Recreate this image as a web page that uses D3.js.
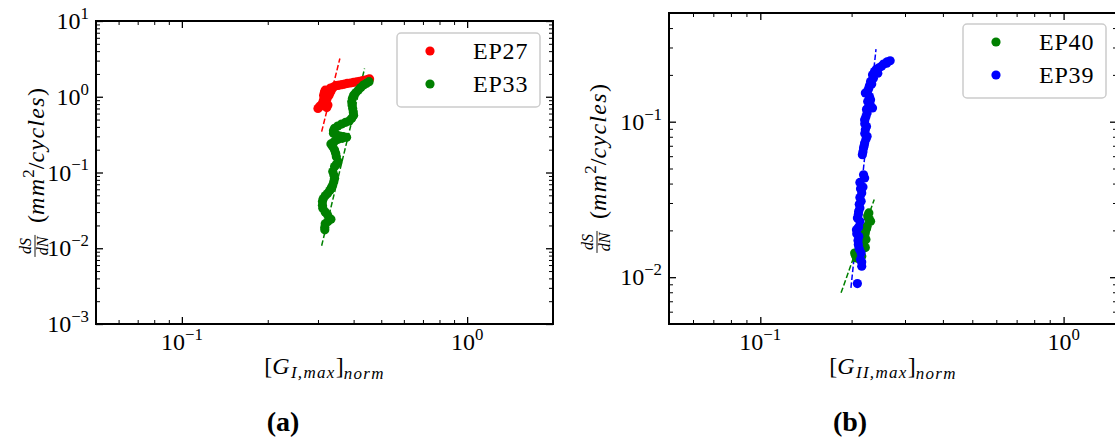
<!DOCTYPE html>
<html><head><meta charset="utf-8">
<script src="https://cdn.jsdelivr.net/npm/d3@7"></script>
<style>body{margin:0;background:#fff}svg{display:block}
svg text{font-family:"Liberation Serif",serif;fill:#000}
svg text .it, svg text.it{font-style:italic}
.mi{letter-spacing:1.3px}
</style>
</head><body>
<svg id="c" width="1115" height="441"></svg>
<script>
// ---------------- data ----------------
const ep27 = [[0.300,0.70],[0.303,0.73],[0.306,0.76],[0.310,0.80],[0.313,0.88],[0.315,0.96],[0.314,1.05],[0.316,1.15],[0.318,1.22],[0.322,1.20],[0.325,1.16],[0.320,0.85],[0.325,0.78],[0.322,0.72],[0.318,1.00],[0.323,0.95],[0.328,1.05],[0.330,1.12],[0.333,1.18],[0.328,1.24],[0.332,1.30],[0.336,1.28],[0.340,1.34],[0.346,1.40],[0.352,1.41],[0.358,1.43],[0.365,1.45],[0.372,1.47],[0.380,1.50],[0.390,1.52],[0.400,1.55],[0.410,1.57],[0.420,1.60],[0.430,1.63],[0.440,1.66],[0.450,1.70],[0.455,1.72]];
const ep33 = [[0.453,1.58],[0.443,1.50],[0.433,1.43],[0.424,1.32],[0.415,1.22],[0.407,1.13],[0.400,1.05],[0.396,0.95],[0.394,0.86],[0.395,0.78],[0.397,0.70],[0.399,0.63],[0.400,0.57],[0.394,0.52],[0.386,0.48],[0.375,0.46],[0.363,0.436],[0.352,0.41],[0.343,0.383],[0.340,0.355],[0.340,0.329],[0.348,0.315],[0.358,0.303],[0.368,0.297],[0.378,0.291],[0.365,0.283],[0.353,0.274],[0.342,0.255],[0.333,0.238],[0.338,0.218],[0.343,0.198],[0.346,0.18],[0.348,0.162],[0.353,0.139],[0.348,0.128],[0.343,0.120],[0.338,0.103],[0.341,0.093],[0.343,0.084],[0.341,0.076],[0.338,0.0686],[0.334,0.063],[0.330,0.0578],[0.324,0.053],[0.318,0.0492],[0.313,0.045],[0.311,0.0414],[0.311,0.037],[0.312,0.0338],[0.318,0.030],[0.324,0.0276],[0.333,0.0242],[0.325,0.0225],[0.318,0.0210],[0.317,0.019],[0.317,0.0175]];
const ep40 = [[0.228,0.0259],[0.231,0.0229],[0.227,0.0240],[0.226,0.0248],[0.229,0.0235],[0.225,0.0213],[0.224,0.0205],[0.222,0.0193],[0.219,0.0202],[0.221,0.0185],[0.223,0.0175],[0.220,0.0170],[0.217,0.0162],[0.218,0.0158],[0.222,0.0155],[0.214,0.0148],[0.216,0.01365],[0.210,0.0135],[0.213,0.0130],[0.206,0.0138],[0.2075,0.0133],[0.2047,0.0143]];
const ep39 = [[0.268,0.2466],[0.262,0.243],[0.261,0.238],[0.255,0.235],[0.251,0.227],[0.246,0.222],[0.2407,0.216],[0.238,0.210],[0.244,0.205],[0.2344,0.2004],[0.236,0.190],[0.231,0.1815],[0.233,0.175],[0.229,0.170],[0.228,0.1644],[0.226,0.158],[0.222,0.1527],[0.229,0.145],[0.231,0.1384],[0.226,0.135],[0.230,0.130],[0.228,0.1254],[0.2344,0.1225],[0.224,0.120],[0.225,0.1137],[0.223,0.108],[0.2208,0.103],[0.221,0.097],[0.224,0.093],[0.222,0.0889],[0.221,0.084],[0.225,0.0805],[0.223,0.077],[0.2208,0.0729],[0.220,0.070],[0.219,0.0677],[0.218,0.064],[0.217,0.0614],[0.219,0.0455],[0.2208,0.0435],[0.213,0.0407],[0.218,0.038],[0.214,0.037],[0.216,0.0348],[0.213,0.0325],[0.215,0.0308],[0.212,0.0295],[0.213,0.0279],[0.211,0.0265],[0.2105,0.0253],[0.209,0.024],[0.213,0.0229],[0.211,0.021],[0.2075,0.0202],[0.208,0.019],[0.2113,0.0183],[0.210,0.0172],[0.2105,0.0162],[0.212,0.0152],[0.215,0.0143],[0.214,0.013],[0.216,0.0125],[0.216,0.01177],[0.209,0.0091]];
// fitted (dashed) lines: two end points each
const fit27 = [[0.309,0.346],[0.358,3.2]];
const fit33 = [[0.309,0.0108],[0.437,2.36]];
const fit40 = [[0.1846,0.00793],[0.2375,0.0316]];
const fit39 = [[0.199,0.00854],[0.2407,0.293]];
const legendA = ["EP27","EP33"];
const legendB = ["EP40","EP39"];
const colors = {red:"#ff0000", green:"#008000", blue:"#0000ff"};

// ---------------- drawing ----------------
const svg = d3.select("#c");
const FS = 24;
const FF = '"Liberation Serif", serif';

function txt(parent) { return parent.append("text").style("font-family", FF); }

function supLabel(sel, v, size) {
  const e = Math.round(Math.log10(v));
  sel.text(null);
  sel.append("tspan").text("10");
  sel.append("tspan").attr("font-size", size*0.7).attr("dy", -size*0.42).text(e < 0 ? "\u2212" + (-e) : String(e));
}

function minorTicks(domain) {
  const out = [];
  const a = Math.floor(Math.log10(domain[0])), b = Math.ceil(Math.log10(domain[1]));
  for (let e = a; e <= b; e++) for (let m = 2; m <= 9; m++) {
    const v = m * Math.pow(10, e);
    if (v >= domain[0]*0.999 && v <= domain[1]*1.001) out.push(v);
  }
  return out;
}

function panel(cfg) {
  const {L, R, T, B} = cfg;
  const x = d3.scaleLog().domain(cfg.xd).range([L, R]);
  const y = d3.scaleLog().domain(cfg.yd).range([B, T]);
  const g = svg.append("g");
  const clip = "clip" + cfg.id;
  svg.append("clipPath").attr("id", clip).append("rect").attr("x", L).attr("y", T).attr("width", R-L).attr("height", B-T);
  const plot = g.append("g").attr("clip-path", `url(#${clip})`);

  const line = d3.line().x(d => x(d[0])).y(d => y(d[1]));
  cfg.fits.forEach(f => plot.append("path").attr("d", line(f.data)).attr("fill", "none")
    .attr("stroke", f.color).attr("stroke-width", 1.5).attr("stroke-dasharray", "5.5,2.4"));
  cfg.series.forEach(s => plot.append("g").selectAll("circle").data(s.data).join("circle")
    .attr("cx", d => x(d[0])).attr("cy", d => y(d[1])).attr("r", 4.6).attr("fill", s.color));

  const xMaj = cfg.xMajor, yMaj = cfg.yMajor;
  const xMin = minorTicks(cfg.xd).filter(v => !xMaj.includes(v));
  const yMin = minorTicks(cfg.yd).filter(v => !yMaj.includes(v));
  const mk = (axisFn, scale, vals, len, w, tr) => {
    const a = g.append("g").attr("transform", tr)
      .call(axisFn(scale).tickValues(vals).tickSize(len).tickFormat(""));
    a.select(".domain").remove();
    a.selectAll("line").attr("stroke", "#000").attr("stroke-width", w);
    return a;
  };
  [[7,1.3,xMaj,yMaj],[4,1,xMin,yMin]].forEach(([len,w,xv,yv]) => {
    mk(d3.axisBottom, x, xv, -len, w, `translate(0,${B})`);
    mk(d3.axisTop, x, xv, -len, w, `translate(0,${T})`);
    mk(d3.axisLeft, y, yv, -len, w, `translate(${L},0)`);
    mk(d3.axisRight, y, yv, -len, w, `translate(${R},0)`);
  });
  xMaj.forEach(v => txt(g).attr("x", x(v)).attr("y", B + 26).attr("text-anchor", "middle")
    .attr("font-size", FS).call(supLabel, v, FS));
  yMaj.forEach(v => txt(g).attr("x", L - 7).attr("y", y(v) + 8).attr("text-anchor", "end")
    .attr("font-size", FS).call(supLabel, v, FS));

  g.append("rect").attr("x", L).attr("y", T).attr("width", R-L).attr("height", B-T)
    .attr("fill", "none").attr("stroke", "#000").attr("stroke-width", 2);

  const lg = g.append("g").attr("transform", `translate(${cfg.leg[0]},${cfg.leg[1]})`);
  lg.append("rect").attr("width", 143).attr("height", 74).attr("rx", 4)
    .attr("fill", "rgba(255,255,255,0.8)").attr("stroke", "#cccccc").attr("stroke-width", 1.5);
  cfg.legend.forEach((name, i) => {
    const yy = 18 + i*33;
    lg.append("circle").attr("cx", 33).attr("cy", yy).attr("r", 4.6).attr("fill", cfg.legendColors[i]);
    txt(lg).attr("x", 76).attr("y", yy + 8).attr("font-size", FS).style("letter-spacing", "0.8px").text(name);
  });

  const xl = txt(g).attr("x", (L+R)/2).attr("y", B + 50).attr("text-anchor", "middle")
    .attr("font-size", FS);
  xl.append("tspan").text("[");
  xl.append("tspan").attr("class", "it mi").text("G");
  xl.append("tspan").attr("class", "it mi").attr("font-size", 17).attr("dy", 4).text(cfg.sub);
  xl.append("tspan").attr("dy", -4).text("]");
  xl.append("tspan").attr("class", "it mi").attr("font-size", 17).attr("dy", 5).text("norm");

  const yl = g.append("g").attr("transform", `translate(${cfg.ylx},${(T+B)/2}) rotate(-90)`);
  const inner = yl.append("g");
  const fw = 22, gap = 12;
  txt(inner).attr("class", "it").attr("x", fw/2).attr("y", -13).attr("text-anchor", "middle")
    .attr("font-size", 16).text("dS");
  inner.append("line").attr("x1", 0).attr("x2", fw).attr("y1", -9).attr("y2", -9).attr("stroke", "#000").attr("stroke-width", 0.9);
  txt(inner).attr("class", "it").attr("x", fw/2).attr("y", 4).attr("text-anchor", "middle")
    .attr("font-size", 16).text("dN");
  const mt = txt(inner).attr("x", fw + gap).attr("y", 0).attr("font-size", FS);
  mt.append("tspan").text("(");
  mt.append("tspan").attr("class", "it mi").text("mm");
  mt.append("tspan").attr("font-size", 17).attr("dy", -10).text("2");
  mt.append("tspan").attr("dy", 10).text("/");
  mt.append("tspan").attr("class", "it mi").text("cycles");
  mt.append("tspan").text(")");
  const total = fw + gap + mt.node().getComputedTextLength();
  inner.attr("transform", `translate(${-total/2},0)`);

  txt(svg).attr("x", cfg.cap).attr("y", 431).attr("text-anchor", "middle")
    .attr("font-weight", "bold").attr("font-size", 28).text(cfg.capText);
}

panel({id:"a", L:96, R:553, T:21, B:324, xd:[0.05,2], yd:[1e-3,10],
  xMajor:[0.1,1], yMajor:[1e-3,1e-2,1e-1,1,10],
  series:[{data:ep27,color:colors.red},{data:ep33,color:colors.green}],
  fits:[{data:fit27,color:colors.red},{data:fit33,color:colors.green}],
  legend:legendA, legendColors:[colors.red,colors.green], leg:[397,33],
  sub:"I,max", ylx:44, cap:283, capText:"(a)"});
panel({id:"b", L:669, R:1117, T:13, B:324, xd:[0.05,1.5], yd:[0.005,0.5],
  xMajor:[0.1,1], yMajor:[0.01,0.1],
  series:[{data:ep40,color:colors.green},{data:ep39,color:colors.blue}],
  fits:[{data:fit40,color:colors.green},{data:fit39,color:colors.blue}],
  legend:legendB, legendColors:[colors.green,colors.blue], leg:[963,24],
  sub:"II,max", ylx:606, cap:850, capText:"(b)"});
</script>
</body></html>
